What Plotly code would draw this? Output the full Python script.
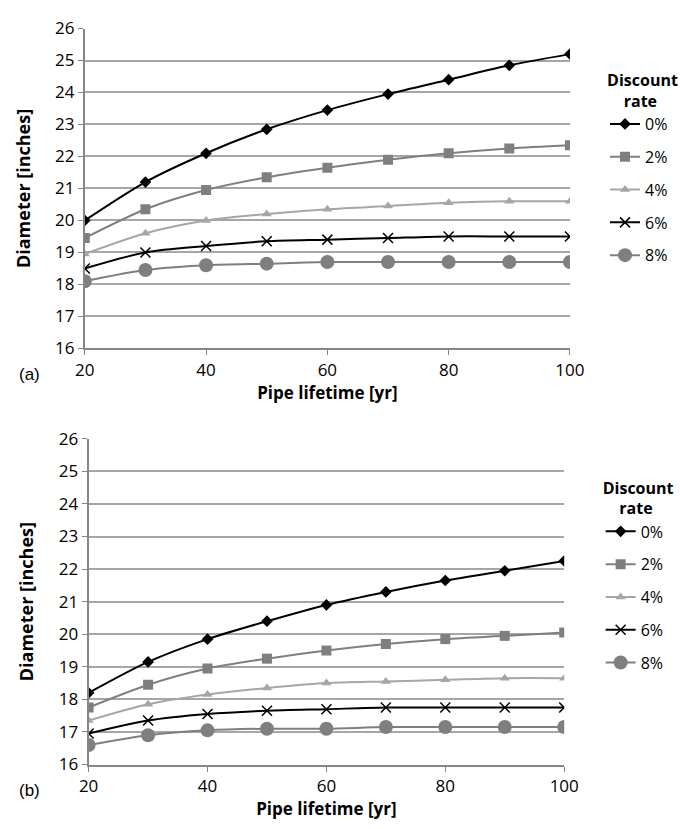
import plotly.graph_objects as go

lifetime = [20, 30, 40, 50, 60, 70, 80, 90, 100]
rates = ["0%", "2%", "4%", "6%", "8%"]

# (a) diameters [inches]
a_0 = [20.0, 21.2, 22.1, 22.85, 23.45, 23.95, 24.4, 24.85, 25.2]
a_2 = [19.45, 20.35, 20.95, 21.35, 21.65, 21.9, 22.1, 22.25, 22.35]
a_4 = [18.95, 19.6, 20.0, 20.2, 20.35, 20.45, 20.55, 20.6, 20.6]
a_6 = [18.5, 19.0, 19.2, 19.35, 19.4, 19.45, 19.5, 19.5, 19.5]
a_8 = [18.1, 18.45, 18.6, 18.65, 18.7, 18.7, 18.7, 18.7, 18.7]

# (b) diameters [inches]
b_0 = [18.2, 19.15, 19.85, 20.4, 20.9, 21.3, 21.65, 21.95, 22.25]
b_2 = [17.75, 18.45, 18.95, 19.25, 19.5, 19.7, 19.85, 19.95, 20.05]
b_4 = [17.35, 17.85, 18.15, 18.35, 18.5, 18.55, 18.6, 18.65, 18.65]
b_6 = [16.95, 17.35, 17.55, 17.65, 17.7, 17.75, 17.75, 17.75, 17.75]
b_8 = [16.6, 16.9, 17.05, 17.1, 17.1, 17.15, 17.15, 17.15, 17.15]

y_ticks = [16, 17, 18, 19, 20, 21, 22, 23, 24, 25, 26]
x_ticks = [20, 40, 60, 80, 100]

styles = [
    dict(color="#000000", symbol="diamond", size=9, mline=0, mcolor="#000000"),
    dict(color="#7f7f7f", symbol="square", size=10, mline=0, mcolor="#7f7f7f"),
    dict(color="#a6a6a6", symbol="triangle-up", size=9, mline=0, mcolor="#a6a6a6"),
    dict(color="#000000", symbol="x-thin", size=10, mline=1.5, mcolor="#000000"),
    dict(color="#7f7f7f", symbol="circle", size=14, mline=0, mcolor="#7f7f7f"),
]

FONT = "Open Sans"
GRID = "#a6a6a6"
AXIS = "#868686"

fig = go.Figure()

def add_series(series, xa, ya, legend, grp):
    for i, (name, vals) in enumerate(zip(rates, series)):
        st = styles[i]
        fig.add_trace(go.Scatter(
            x=lifetime, y=vals, name=name, mode="lines+markers",
            xaxis=xa, yaxis=ya, legend=legend, legendgroup=grp + name,
            line=dict(color=st["color"], width=2, shape="spline", smoothing=0.8),
            marker=dict(symbol=st["symbol"], size=st["size"], color=st["mcolor"],
                        line=dict(width=st["mline"], color=st["mcolor"])),
        ))

add_series([a_0, a_2, a_4, a_6, a_8], "x", "y", "legend", "a")
add_series([b_0, b_2, b_4, b_6, b_8], "x2", "y2", "legend2", "b")

W, H = 680, 829

def xd(l, r):
    return [l / W, r / W]

def yd(top, bot):
    return [1 - bot / H, 1 - top / H]

axis_common = dict(
    showline=True, linecolor=AXIS, linewidth=2,
    ticks="outside", ticklen=5, tickcolor=AXIS, tickwidth=1,
    tickfont=dict(family=FONT, size=17, color="#000000"),
    zeroline=False,
)

xaxis_common = dict(axis_common, range=[20, 100], tickvals=x_ticks, showgrid=False,
                    title=dict(text="<b>Pipe lifetime [yr]</b>", font=dict(family=FONT, size=17, color="#000"), standoff=3))
yaxis_common = dict(axis_common, range=[16, 26], tickvals=y_ticks, showgrid=True,
                    gridcolor=GRID, gridwidth=1.5,
                    title=dict(text="<b>Diameter [inches]</b>", font=dict(family=FONT, size=18, color="#000"), standoff=20))

legend_common = dict(
    xanchor="left", yanchor="top",
    title=dict(text="<b>Discount<br>&nbsp;&nbsp;&nbsp;&nbsp;rate</b>", side="top center",
               font=dict(family=FONT, size=16, color="#000")),
    font=dict(family=FONT, size=16, color="#000"),
    tracegroupgap=9, bgcolor="rgba(0,0,0,0)",
)

fig.update_layout(
    width=W, height=H,
    margin=dict(l=0, r=0, t=0, b=0),
    paper_bgcolor="white", plot_bgcolor="white",
    showlegend=True,
    xaxis=dict(xaxis_common, domain=xd(78, 584), anchor="y"),
    yaxis=dict(yaxis_common, domain=yd(17, 346), anchor="x"),
    xaxis2=dict(xaxis_common, domain=xd(82, 578), anchor="y2"),
    yaxis2=dict(yaxis_common, domain=yd(439, 774), anchor="x2"),
    legend=dict(legend_common, x=621 / W, y=1 - 55 / H),
    legend2=dict(legend_common, x=616 / W, y=1 - 474 / H),
    annotations=[
        dict(text="(a)", x=7 / W, y=1 - 373 / H, xref="paper", yref="paper",
             xanchor="left", yanchor="middle", showarrow=False,
             font=dict(family="Liberation Sans", size=17, color="#000")),
        dict(text="(b)", x=7 / W, y=1 - 801 / H, xref="paper", yref="paper",
             xanchor="left", yanchor="middle", showarrow=False,
             font=dict(family="Liberation Sans", size=17, color="#000")),
    ],
)

fig.write_html("out.html")
